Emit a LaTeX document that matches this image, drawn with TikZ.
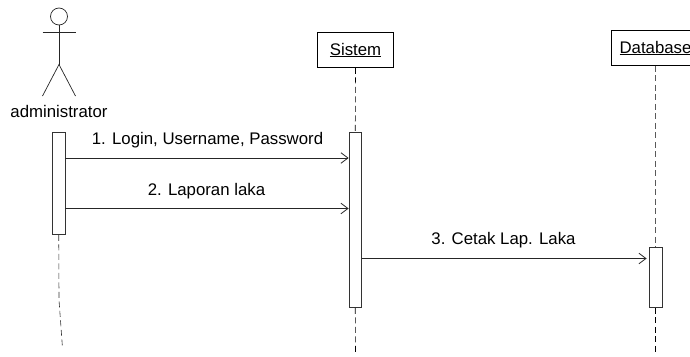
\documentclass[tikz,border=0pt]{standalone}
\usepackage{fontspec}
\setmainfont{Liberation Sans}
\tikzset{
          objbox/.style = {rectangle, draw=black, line width=0.7pt, fill=white, minimum width=#1, minimum height=35pt, inner sep=0pt, font=\fontsize{16.8}{18}\selectfont},
          activ/.style = {rectangle, draw=black!80, line width=0.8pt, fill=white, minimum width=12.5pt, minimum height=#1, inner sep=0pt},
          lifeline/.style = {draw=black, line width=0.6pt, dash pattern=on 6pt off 3.5pt},
          message/.style = {draw=black!85, line width=0.8pt, -{Straight Barb[length=7pt,width=10.5pt]}},
          label/.style = {font=\fontsize{16.8}{18}\selectfont, anchor=center, inner sep=0pt},
          figure/.style = {draw=black!85, line width=0.7pt}
        }
\usetikzlibrary{arrows.meta}
\begin{document}
\begin{tikzpicture}[x=1pt,y=-1pt]
          \useasboundingbox (0,0) rectangle (690,356);
          \clip (0,0) rectangle (690,356);

          % actor
          \node[circle, draw=black!85, line width=0.7pt, minimum size=17pt, inner sep=0pt] (head) at (59,16.5) {};
          \coordinate (hip) at (59,64.5);
          \coordinate (armL) at (42.5,32.5);
          \coordinate (armR) at (75.5,32.5);
          \coordinate (footL) at (42.5,96);
          \coordinate (footR) at (75.5,96);
          \draw[figure] (head.south) -- (hip);
          \draw[figure] (armL) -- (armR);
          \draw[figure] (footL) -- (hip) -- (footR);
          \node[label] (admin) at (59,111.5) {administrator};

          % objects
          \node[objbox=76pt] (sistem) at (355.5,50) {\underline{Sistem}};
          \node[objbox=88pt] (database) at (655.5,48) {\underline{Database}};

          % activation bars
          \node[activ=102pt] (baradmin) at (58.75,183.5) {};
          \node[activ=175pt] (barsistem) at (355.25,220) {};
          \node[activ=60pt] (bardb) at (655.75,277.5) {};

          % lifelines
          \coordinate (endadminA) at (59,300);
          \coordinate (endadminB) at (62.5,348);
          \coordinate (endsistem) at (355.5,354);
          \coordinate (enddb) at (655.75,354);
          \draw[lifeline] (sistem.south) -- (barsistem.north);
          \draw[lifeline] (barsistem.south) -- (endsistem);
          \draw[lifeline, draw=black!65] (database.south -| bardb.north) -- (bardb.north);
          \draw[lifeline] (bardb.south) -- (enddb);
          \draw[lifeline, draw=black!80] (baradmin.south) -- (endadminA) -- (endadminB);

          % messages
          \draw[message] (baradmin.east |- 0,158) -- (barsistem.west |- 0,158);
          \draw[message] (baradmin.east |- 0,208.5) -- (barsistem.west |- 0,208.5);
          \draw[message, shorten >=2.5pt] (barsistem.east |- 0,258.5) -- (bardb.west |- 0,258.5);

          \node[label] (msgone) at (207.5,140) {1. Login, Username, Password};
          \node[label] (msgtwo) at (206.5,191) {2. Laporan laka};
          \node[label] (msgthree) at (503.5,240) {3. Cetak Lap. Laka};
        \end{tikzpicture}
\end{document}
